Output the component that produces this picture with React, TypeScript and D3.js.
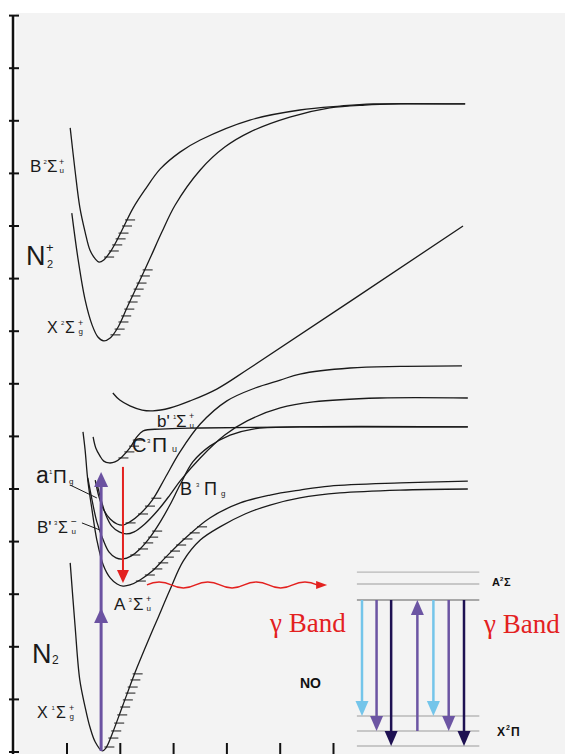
import React from "react";
import * as d3 from "d3";

const W = 565;
const H = 754;

// axis ticks
const energyTicks = [0, 2, 4, 6, 8, 10, 12, 14, 16, 18, 20, 22, 24, 26, 28];
const rTicks = [1, 2, 3, 4, 5, 6];

type P = [number, number];

// N2 X 1Σg+
const n2X: P[] = [[1.06,7.19],[1.15,4.83],[1.24,2.74],[1.34,1.71],[1.43,0.95],[1.53,0.38],[1.66,0.04],[1.73,0.15],[1.84,0.65],[2.05,1.79],[2.31,3.19],[2.56,4.41],[2.69,5.02],[2.93,6.16],[3.18,7.26],[3.5,8.06],[3.87,8.56],[4.34,9.05],[4.81,9.39],[5.37,9.66],[6.12,9.85],[7.25,9.96],[8.52,10.0]];
const n2XLevels = [0.19, 0.53, 0.8, 1.1, 1.41, 1.71, 1.98, 2.24, 2.47, 2.74, 2.97];

// N2 A 3Σu+
const n2A: P[] = [[1.3,12.17],[1.34,11.48],[1.39,10.34],[1.47,9.2],[1.56,8.06],[1.68,7.11],[1.81,6.62],[1.94,6.39],[2.05,6.31],[2.18,6.35],[2.37,6.54],[2.6,6.88],[2.84,7.38],[3.18,8.06],[3.68,8.9],[4.25,9.47],[4.81,9.77],[5.37,9.96],[5.93,10.11],[7.25,10.23],[8.52,10.3]];
const n2ALevels = [6.5, 6.73, 6.96, 7.19, 7.41, 7.64, 7.87, 8.1, 8.33, 8.56];

// N2 B 3Πg
const n2B: P[] = [[1.39,10.42],[1.47,9.58],[1.56,8.75],[1.68,8.06],[1.79,7.6],[1.92,7.38],[2.05,7.34],[2.2,7.45],[2.37,7.72],[2.56,8.17],[2.75,8.75],[2.93,9.39],[3.12,10.15],[3.36,11.03],[3.68,11.63],[4.06,12.05],[4.49,12.28],[5.37,12.36],[8.52,12.36]];
const n2BLevels = [7.49, 7.72, 7.95, 8.17, 8.4];

// N2 B' 3Σu-
const n2Bp: P[] = [[1.56,10.23],[1.64,9.58],[1.73,9.01],[1.84,8.59],[1.98,8.37],[2.11,8.29],[2.26,8.37],[2.46,8.67],[2.71,9.2],[2.93,9.77],[3.12,10.3],[3.5,11.18],[3.96,12.05],[4.38,12.59],[5.0,13.08],[5.62,13.31],[6.87,13.46],[8.52,13.46]];
const n2BpLevels: number[] = [];

// N2 a 1Πg
const n2a: P[] = [[1.53,10.34],[1.6,9.7],[1.69,9.2],[1.81,8.86],[1.94,8.67],[2.05,8.63],[2.18,8.75],[2.37,9.05],[2.6,9.58],[2.84,10.42],[3.12,11.41],[3.5,12.47],[4.0,13.35],[4.53,13.84],[5.0,14.14],[5.37,14.37],[6.31,14.6],[7.25,14.66],[8.41,14.68]];
const n2aLevels = [8.71, 9.05, 9.35, 9.65];

// N2 C 3Πu
const n2C: P[] = [[1.49,11.98],[1.54,11.56],[1.62,11.25],[1.69,11.06],[1.79,10.99],[1.9,11.03],[2.03,11.22],[2.18,11.56],[2.31,11.98],[2.43,12.21],[2.75,12.28],[3.5,12.32],[5.37,12.36],[8.52,12.36]];
const n2CLevels = [11.18, 11.41, 11.63, 11.86];

// N2 b' 1Σu+
const n2bp: P[] = [[1.86,13.65],[1.99,13.38],[2.18,13.16],[2.41,13.0],[2.61,12.97],[2.93,13.08],[3.31,13.35],[3.81,13.8],[4.43,14.6],[8.43,20.0]];
const n2bpLevels: number[] = [];

// N2+ X 2Σg+
const ionX: P[] = [[1.09,20.49],[1.21,18.71],[1.34,17.19],[1.47,16.24],[1.58,15.78],[1.69,15.63],[1.81,15.74],[1.96,16.16],[2.14,16.96],[2.37,17.95],[2.56,18.78],[2.78,19.77],[3.03,20.8],[3.5,22.13],[3.96,23.0],[4.43,23.57],[5.18,24.14],[5.93,24.49],[6.59,24.6],[7.25,24.64],[8.47,24.64]];
const ionXLevels = [15.86, 16.08, 16.35, 16.58, 16.84, 17.11, 17.34, 17.6, 17.83, 18.1, 18.33];

// N2+ B 2Σu+
const ionB: P[] = [[1.06,23.73],[1.15,22.13],[1.24,20.72],[1.34,19.77],[1.43,19.09],[1.53,18.75],[1.6,18.63],[1.69,18.71],[1.81,19.01],[1.94,19.47],[2.07,20.0],[2.24,20.68],[2.46,21.37],[2.75,22.17],[3.12,22.81],[3.5,23.27],[4.43,24.03],[5.37,24.41],[6.12,24.56],[6.74,24.64],[8.47,24.64]];
const ionBLevels = [18.82, 19.05, 19.28, 19.51, 19.73, 20.0, 20.23];

// transitions
const pumpArrow = { r: 1.64, from: 0.04, mid: 5.48, to: 10.65 };
const relaxArrow = { r: 2.05, from: 10.84, to: 6.43 };
const transferWave = { r0: 2.5, r1: 5.88, e: 6.35 };
const leaderA: P[] = [[1.06, 10.15], [1.56, 9.66]];
const leaderBp: P[] = [[1.28, 8.71], [1.62, 8.44]];

// NO inset
const noUpper = [5.45, 6.05, 6.49];
const noLower = [0, 0.56, 1.12];
const noArrows = [
  { slot: 0, from: 5.45, to: 1.12, kind: "light" },
  { slot: 1, from: 5.45, to: 0.56, kind: "mid" },
  { slot: 2, from: 5.45, to: 0, kind: "dark" },
  { slot: 3.8, from: 0.56, to: 5.45, kind: "mid" },
  { slot: 4.9, from: 5.45, to: 1.12, kind: "light" },
  { slot: 5.95, from: 5.45, to: 0.56, kind: "mid" },
  { slot: 7, from: 5.45, to: 0, kind: "dark" },
];
const noColors: Record<string, string> = { light: "#74c5ea", mid: "#6c55a3", dark: "#1e1152" };

const x = d3.scaleLinear().domain([0, 10]).range([13.7, 546.7]);
const y = d3.scaleLinear().domain([0, 28]).range([752, 15.6]);
const xNO = d3.scaleLinear().domain([0, 7]).range([362, 464]);
const yNO = d3.scaleLinear().domain([0, 5.45]).range([746, 600]);

const line = d3
  .line<P>()
  .x((d) => x(d[0]))
  .y((d) => y(d[1]))
  .curve(d3.curveCatmullRom.alpha(0.5));

const states = [
  { pts: n2X, levels: n2XLevels },
  { pts: n2A, levels: n2ALevels },
  { pts: n2B, levels: n2BLevels },
  { pts: n2Bp, levels: n2BpLevels },
  { pts: n2a, levels: n2aLevels },
  { pts: n2C, levels: n2CLevels },
  { pts: n2bp, levels: n2bpLevels },
  { pts: ionX, levels: ionXLevels },
  { pts: ionB, levels: ionBLevels },
];

function rightWallU(pts: P[], E: number) {
  let mi = 0;
  pts.forEach((p, i) => {
    if (p[1] < pts[mi][1]) mi = i;
  });
  for (let i = mi; i < pts.length - 1; i++) {
    const [u0, e0] = pts[i];
    const [u1, e1] = pts[i + 1];
    if ((E - e0) * (E - e1) <= 0 && e1 !== e0) return u0 + ((u1 - u0) * (E - e0)) / (e1 - e0);
  }
  return pts[mi][0];
}

function VArrow({ px, y1, y2, color, sw, hw, hl }: any) {
  const dir = y2 > y1 ? 1 : -1;
  const base = y2 - dir * hl;
  return (
    <g>
      <line x1={px} x2={px} y1={y1} y2={base + dir * 2} stroke={color} strokeWidth={sw} />
      <path d={`M${px},${y2} L${px - hw / 2},${base} L${px + hw / 2},${base} Z`} fill={color} />
    </g>
  );
}

type Part = [string, number, number, number];
const labelFont = "'Liberation Sans', Arial, sans-serif";
const labels: { x: number; y: number; parts: Part[] }[] = [
  { x: 30, y: 172, parts: [["B", 0, 0, 17], ["2", 13.5, -8, 6], ["Σ", 17, 0, 17], ["+", 29, -7, 9], ["u", 29.5, 1, 8]] },
  { x: 26, y: 265, parts: [["N", 0, 0, 27], ["+", 20, -13, 13], ["2", 21, 3, 11]] },
  { x: 47, y: 333, parts: [["X", 0, 0, 16], ["2", 14, -8, 6], ["Σ", 18, 0, 16], ["+", 31, -7, 9], ["g", 31.5, 1, 8]] },
  { x: 157, y: 427, parts: [["b'", 0, 0, 17], ["1", 16, -8, 6], ["Σ", 19, 0, 17], ["+", 32, -8, 9], ["u", 32.5, 1, 8]] },
  { x: 132, y: 452, parts: [["C", 0, 0, 20], ["3", 15, -9, 6], ["Π", 20, 0, 21], ["u", 40, 0, 9]] },
  { x: 36, y: 483, parts: [["a", 0, 0, 23], ["1", 13, -9, 6], ["Π", 17, 0, 19], ["g", 33, 1, 8]] },
  { x: 37, y: 533, parts: [["B'", 0, 0, 17], ["3", 17, -8, 6], ["Σ", 21, 0, 16], ["−", 34, -8, 10], ["u", 34.5, 1, 8]] },
  { x: 180, y: 495, parts: [["B", 0, 0, 18], ["3", 16, -8, 6], ["Π", 24, 0, 18], ["g", 41, 1, 8]] },
  { x: 114, y: 610, parts: [["A", 0, 0, 17], ["3", 14.5, -8, 6], ["Σ", 19, 0, 17], ["+", 32, -8, 9], ["u", 32.5, 1, 8]] },
  { x: 32, y: 663, parts: [["N", 0, 0, 27], ["2", 20, 1, 12]] },
  { x: 37, y: 718, parts: [["X", 0, 0, 16], ["1", 14.5, -8, 6], ["Σ", 19, 0, 16], ["+", 32, -7, 9], ["g", 32.5, 1, 8]] },
];

export default function App() {
  const waveY = y(transferWave.e);
  const wx0 = x(transferWave.r0);
  const wx1 = x(transferWave.r1);
  const half = (wx1 - 10 - wx0) / 7;
  let wave = `M${wx0},${waveY} q${half / 2},${-6} ${half},0`;
  for (let i = 1; i < 7; i++) wave += ` t${half},0`;

  return (
    <svg width={W} height={H} style={{ position: "absolute", left: 0, top: 0, display: "block" }}>
      <rect x={0} y={0} width={W} height={H} fill="#ffffff" />
      <rect x={16} y={13} width={W - 16} height={H - 13} fill="#f3f3f3" />

      {/* axes */}
      <line x1={13} x2={13} y1={y(28)} y2={H} stroke="#111" strokeWidth={2.5} />
      {energyTicks.map((e) => (
        <line key={e} x1={9} x2={19} y1={y(e)} y2={y(e)} stroke="#111" strokeWidth={2} />
      ))}
      {rTicks.map((r) => (
        <line key={r} x1={x(r)} x2={x(r)} y1={H - 11} y2={H} stroke="#111" strokeWidth={2} />
      ))}

      {/* potential curves */}
      {states.map((s, i) => (
        <g key={i}>
          <path d={line(s.pts) || ""} fill="none" stroke="#1a1a1a" strokeWidth={1.3} />
          {s.levels.map((e) => {
            const xr = x(rightWallU(s.pts, e));
            return <line key={e} x1={xr - 2} x2={xr + 8} y1={y(e)} y2={y(e)} stroke="#1a1a1a" strokeWidth={1} />;
          })}
        </g>
      ))}

      {/* leader lines */}
      {[leaderA, leaderBp].map((l, i) => (
        <line key={i} x1={x(l[0][0])} y1={y(l[0][1])} x2={x(l[1][0])} y2={y(l[1][1])} stroke="#1a1a1a" strokeWidth={1} />
      ))}

      {/* labels */}
      {labels.map((lb, i) => (
        <g key={i} fontFamily={labelFont} fill="#1a1a1a">
          {lb.parts.map((p, j) => (
            <text key={j} x={lb.x + p[1]} y={lb.y + p[2]} fontSize={p[3]}>
              {p[0]}
            </text>
          ))}
        </g>
      ))}

      {/* pumping arrow */}
      <VArrow px={x(pumpArrow.r)} y1={y(pumpArrow.from)} y2={y(pumpArrow.to)} color="#6b52a1" sw={3} hw={14} hl={15} />
      <path
        d={`M${x(pumpArrow.r)},${y(pumpArrow.mid)} L${x(pumpArrow.r) - 7},${y(pumpArrow.mid) + 15} L${x(pumpArrow.r) + 7},${y(pumpArrow.mid) + 15} Z`}
        fill="#6b52a1"
      />
      {/* relaxation arrow */}
      <VArrow px={x(relaxArrow.r)} y1={y(relaxArrow.from)} y2={y(relaxArrow.to)} color="#e3211f" sw={2} hw={12} hl={13} />

      {/* energy transfer wave */}
      <path d={wave} fill="none" stroke="#e3211f" strokeWidth={1.4} />
      <path d={`M${wx1},${waveY} L${wx1 - 11},${waveY - 4} L${wx1 - 11},${waveY + 4} Z`} fill="#e3211f" />

      {/* NO inset */}
      {noUpper.concat(noLower).map((e, i) => (
        <line
          key={i}
          x1={xNO(-0.35)}
          x2={xNO(8.05)}
          y1={yNO(e)}
          y2={yNO(e)}
          stroke={e === 5.45 ? "#8f8f8f" : "#b8b8b8"}
          strokeWidth={1.4}
        />
      ))}
      {noArrows.map((a, i) => (
        <VArrow key={i} px={xNO(a.slot)} y1={yNO(a.from)} y2={yNO(a.to)} color={noColors[a.kind]} sw={2.5} hw={13} hl={15} />
      ))}
      <g fontFamily={labelFont} fontWeight="bold" fill="#111">
        <text x={492} y={586} fontSize={11}>A</text>
        <text x={500} y={581} fontSize={6}>2</text>
        <text x={504} y={586} fontSize={11}>Σ</text>
        <text x={497} y={736} fontSize={12}>X</text>
        <text x={506} y={730} fontSize={7}>2</text>
        <text x={511} y={736} fontSize={12}>Π</text>
        <text x={300} y={688} fontSize={14}>NO</text>
      </g>
      <g fontFamily="'Liberation Serif', 'Times New Roman', serif" fill="#e3211f" fontSize={27}>
        <text x={270} y={632}>γ Band</text>
        <text x={484} y={633}>γ Band</text>
      </g>
    </svg>
  );
}
